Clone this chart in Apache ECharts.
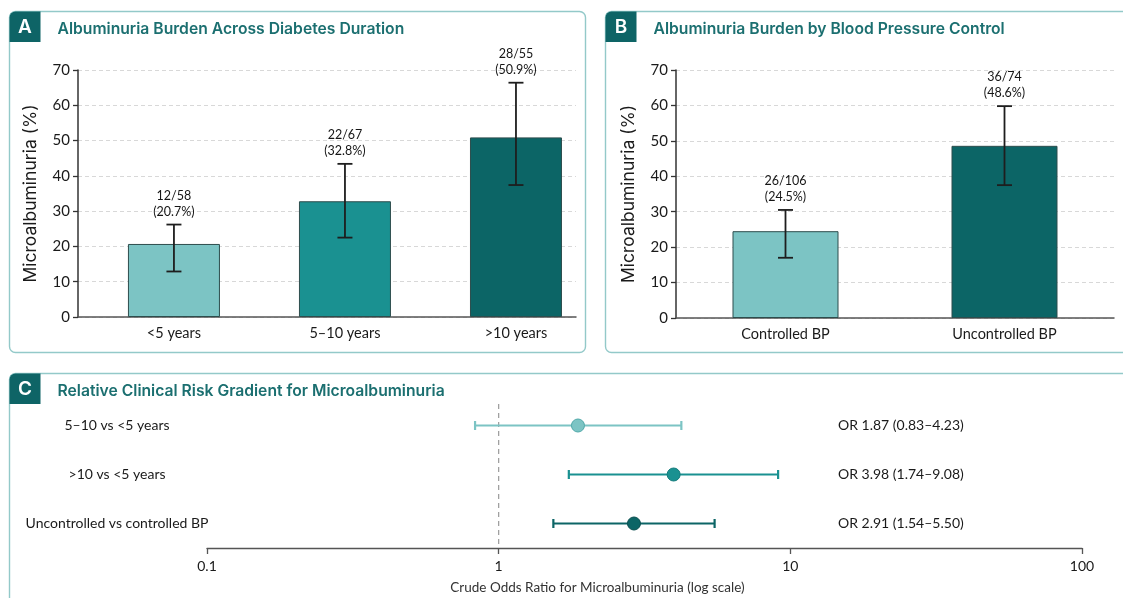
<!DOCTYPE html>
<html>
<head>
<meta charset="utf-8">
<script src="https://cdn.jsdelivr.net/npm/echarts@6/dist/echarts.min.js"></script>
<style>
html, body { margin: 0; padding: 0; background: #fff; }
#chart { width: 1123px; height: 598px; }
</style>
</head>
<body>
<div id="chart"></div>
<script>
// panel A - diabetes duration
var durationCats = ['<5 years', '5–10 years', '>10 years'];
var durationPct = [20.7, 32.8, 50.9];
var durationLow = [12.9, 22.5, 37.4];
var durationHigh = [26.2, 43.4, 66.4];
var durationCounts = ['12/58', '22/67', '28/55'];

// panel B - blood pressure control
var bpCats = ['Controlled BP', 'Uncontrolled BP'];
var bpPct = [24.5, 48.6];
var bpLow = [17.0, 37.5];
var bpHigh = [30.5, 59.8];
var bpCounts = ['26/106', '36/74'];

// panel C - odds ratios
var orRows = ['5–10 vs <5 years', '>10 vs <5 years', 'Uncontrolled vs controlled BP'];
var orValue = [1.87, 3.98, 2.91];
var orLow = [0.83, 1.74, 1.54];
var orHigh = [4.23, 9.08, 5.50];
var refOR = 1;

var light = '#7cc4c4', mid = '#1a9191', dark = '#0c6566';
var teal = '#1b6f70', border = '#93c9c9';
var font = 'Lato';

var chart = echarts.init(document.getElementById('chart'));

function errBar(pcts, counts) {
    return function (params, api) {
        var x = api.value(0);
        var lo = api.coord([x, api.value(1)]);
        var hi = api.coord([x, api.value(2)]);
        var cap = 7.5;
        var ls = { stroke: '#1e1e1e', lineWidth: 1.8 };
        var i = params.dataIndex;
        return {
            type: 'group',
            children: [
                { type: 'line', shape: { x1: lo[0], y1: lo[1], x2: hi[0], y2: hi[1] }, style: ls },
                { type: 'line', shape: { x1: lo[0] - cap, y1: lo[1], x2: lo[0] + cap, y2: lo[1] }, style: ls },
                { type: 'line', shape: { x1: hi[0] - cap, y1: hi[1], x2: hi[0] + cap, y2: hi[1] }, style: ls },
                { type: 'text', style: {
                    text: counts[i] + '\n(' + pcts[i].toFixed(1) + '%)',
                    x: hi[0], y: hi[1] - 5, textAlign: 'center', textVerticalAlign: 'bottom',
                    fontSize: 12.5, lineHeight: 16, fill: '#151515', fontFamily: font
                } }
            ]
        };
    };
}

var rowColors = [light, mid, dark];
var rowEdges = ['#4fa9a9', '#137c7c', '#0a4f50'];

function forest(params, api) {
    var r = api.value(3);
    var c = rowColors[r];
    var lo = api.coord([api.value(1), r]);
    var hi = api.coord([api.value(2), r]);
    var pt = api.coord([api.value(0), r]);
    var ls = { stroke: c, lineWidth: 2.2 };
    var i = params.dataIndex;
    var kids = [];
    if (i === 0) {
        var rx = api.coord([refOR, 0])[0];
        kids.push({ type: 'line', z2: -1,
            shape: { x1: rx, y1: params.coordSys.y + 3, x2: rx, y2: params.coordSys.y + params.coordSys.height },
            style: { stroke: '#9a9a9a', lineWidth: 1.2, lineDash: [5, 4] } });
    }
    kids.push(
        { type: 'line', shape: { x1: lo[0], y1: lo[1], x2: hi[0], y2: hi[1] }, style: ls },
        { type: 'line', shape: { x1: lo[0], y1: lo[1] - 4.5, x2: lo[0], y2: lo[1] + 4.5 }, style: ls },
        { type: 'line', shape: { x1: hi[0], y1: hi[1] - 4.5, x2: hi[0], y2: hi[1] + 4.5 }, style: ls },
        { type: 'circle', shape: { cx: pt[0], cy: pt[1], r: 6.5 }, style: { fill: c, stroke: rowEdges[r], lineWidth: 1 } },
        { type: 'text', style: {
            text: 'OR ' + orValue[i].toFixed(2) + ' (' + orLow[i].toFixed(2) + '–' + orHigh[i].toFixed(2) + ')',
            x: params.coordSys.x + 631, y: pt[1], textAlign: 'left', textVerticalAlign: 'middle',
            fontSize: 14, fill: '#1a1a1a', fontFamily: font
        } }
    );
    return { type: 'group', children: kids };
}

function panel(x, y, w, h, letter, title) {
    return [
        { type: 'rect', shape: { x: x, y: y, width: w, height: h, r: 6 },
          style: { fill: 'none', stroke: border, lineWidth: 1.4 } },
        { type: 'rect', shape: { x: x, y: y, width: 31, height: 30.5, r: [6, 0, 0, 0] },
          style: { fill: '#0e6466' } },
        { type: 'text', style: { text: letter, x: x + 15.5, y: y + 15.5, textAlign: 'center', textVerticalAlign: 'middle',
          fill: '#fff', fontSize: 19, fontWeight: 600, fontFamily: 'Inter' } },
        { type: 'text', style: { text: title, x: x + 48, y: y + 18, textVerticalAlign: 'middle',
          fill: teal, fontSize: 15.7, fontWeight: 600, fontFamily: 'Inter' } }
    ];
}

function yAxisFor(idx) {
    return {
        gridIndex: idx, type: 'value', min: 0, max: 70, interval: 10,
        name: '{n|Microalbuminuria (%)}', nameLocation: 'middle', nameGap: 38,
        nameTextStyle: { rich: { n: { fontSize: 17.5, color: '#1a1a1a', fontFamily: 'Inter' } } },
        axisLine: { show: true, onZero: false, lineStyle: { color: '#333', width: 1.5 } },
        axisTick: { show: true, length: 5, lineStyle: { color: '#333', width: 1.3 } },
        axisLabel: { fontSize: 15, color: '#1a1a1a', margin: 8, fontFamily: font },
        splitLine: { show: true, lineStyle: { color: '#d8d8d8', type: [4, 3], width: 1 } }
    };
}

var option = {
    animation: false,
    backgroundColor: '#fff',
    textStyle: { fontFamily: font },
    graphic: [].concat(
        panel(9.5, 11.5, 576, 341, 'A', 'Albuminuria Burden Across Diabetes Duration'),
        panel(605.5, 11.5, 540, 341, 'B', 'Albuminuria Burden by Blood Pressure Control'),
        panel(9.5, 373.5, 1140, 260, 'C', 'Relative Clinical Risk Gradient for Microalbuminuria')
    ),
    grid: [
        { left: 78, right: 547, top: 70, bottom: 281 },
        { left: 676, right: 9, top: 70, bottom: 280 },
        { left: 207, right: 41, top: 401, bottom: 50 }
    ],
    xAxis: [
        {
            gridIndex: 0, type: 'value', min: -0.561, max: 2.351,
            axisLine: { show: true, onZero: false, lineStyle: { color: '#555', width: 1.5 } },
            axisTick: { show: false },
            splitLine: { show: false },
            axisLabel: { customValues: [0, 1, 2], fontSize: 14.5, color: '#1a1a1a', margin: 9,
                formatter: function (v) { return durationCats[Math.round(v)]; } }
        },
        {
            gridIndex: 1, type: 'category', data: bpCats,
            axisLine: { onZero: false, lineStyle: { color: '#555', width: 1.5 } },
            axisTick: { show: false },
            axisLabel: { fontSize: 14.5, color: '#1a1a1a', margin: 9 }
        },
        {
            gridIndex: 2, type: 'log', logBase: 10, min: 0.1, max: 100,
            name: 'Crude Odds Ratio for Microalbuminuria (log scale)', nameLocation: 'middle', nameGap: 33,
            nameTextStyle: { fontSize: 13.5, color: '#333', padding: [0, 94, 0, 0] },
            axisLine: { show: true, onZero: false, lineStyle: { color: '#555', width: 1.3 } },
            axisTick: { show: true, length: 6, lineStyle: { color: '#555', width: 1.3 } },
            axisLabel: { fontSize: 14, color: '#1a1a1a', margin: 11 },
            splitLine: { show: false }
        }
    ],
    yAxis: [
        yAxisFor(0),
        yAxisFor(1),
        {
            gridIndex: 2, type: 'category', data: orRows, inverse: true,
            axisLine: { show: false }, axisTick: { show: false },
            axisLabel: { align: 'center', margin: 90, fontSize: 14, color: '#1a1a1a' }
        }
    ],
    series: [
        {
            type: 'bar', xAxisIndex: 0, yAxisIndex: 0, barWidth: 92,
            data: durationPct.map(function (v, i) {
                return { value: [i, v], itemStyle: { color: [light, mid, dark][i] } };
            }),
            itemStyle: { borderColor: '#2d4d4d', borderWidth: 1 }
        },
        {
            type: 'custom', xAxisIndex: 0, yAxisIndex: 0, z: 5,
            renderItem: errBar(durationPct, durationCounts),
            data: durationPct.map(function (v, i) { return [i, durationLow[i], durationHigh[i]]; })
        },
        {
            type: 'bar', xAxisIndex: 1, yAxisIndex: 1, barWidth: 106,
            data: bpPct.map(function (v, i) {
                return { value: v, itemStyle: { color: [light, dark][i] } };
            }),
            itemStyle: { borderColor: '#2d4d4d', borderWidth: 1 }
        },
        {
            type: 'custom', xAxisIndex: 1, yAxisIndex: 1, z: 5,
            renderItem: errBar(bpPct, bpCounts),
            data: bpPct.map(function (v, i) { return [i, bpLow[i], bpHigh[i]]; })
        },
        {
            type: 'custom', xAxisIndex: 2, yAxisIndex: 2,
            renderItem: forest,
            encode: { x: [0, 1, 2], y: 3 },
            data: orValue.map(function (v, i) { return [v, orLow[i], orHigh[i], i]; })
        }
    ]
};

chart.setOption(option);
</script>
</body>
</html>
